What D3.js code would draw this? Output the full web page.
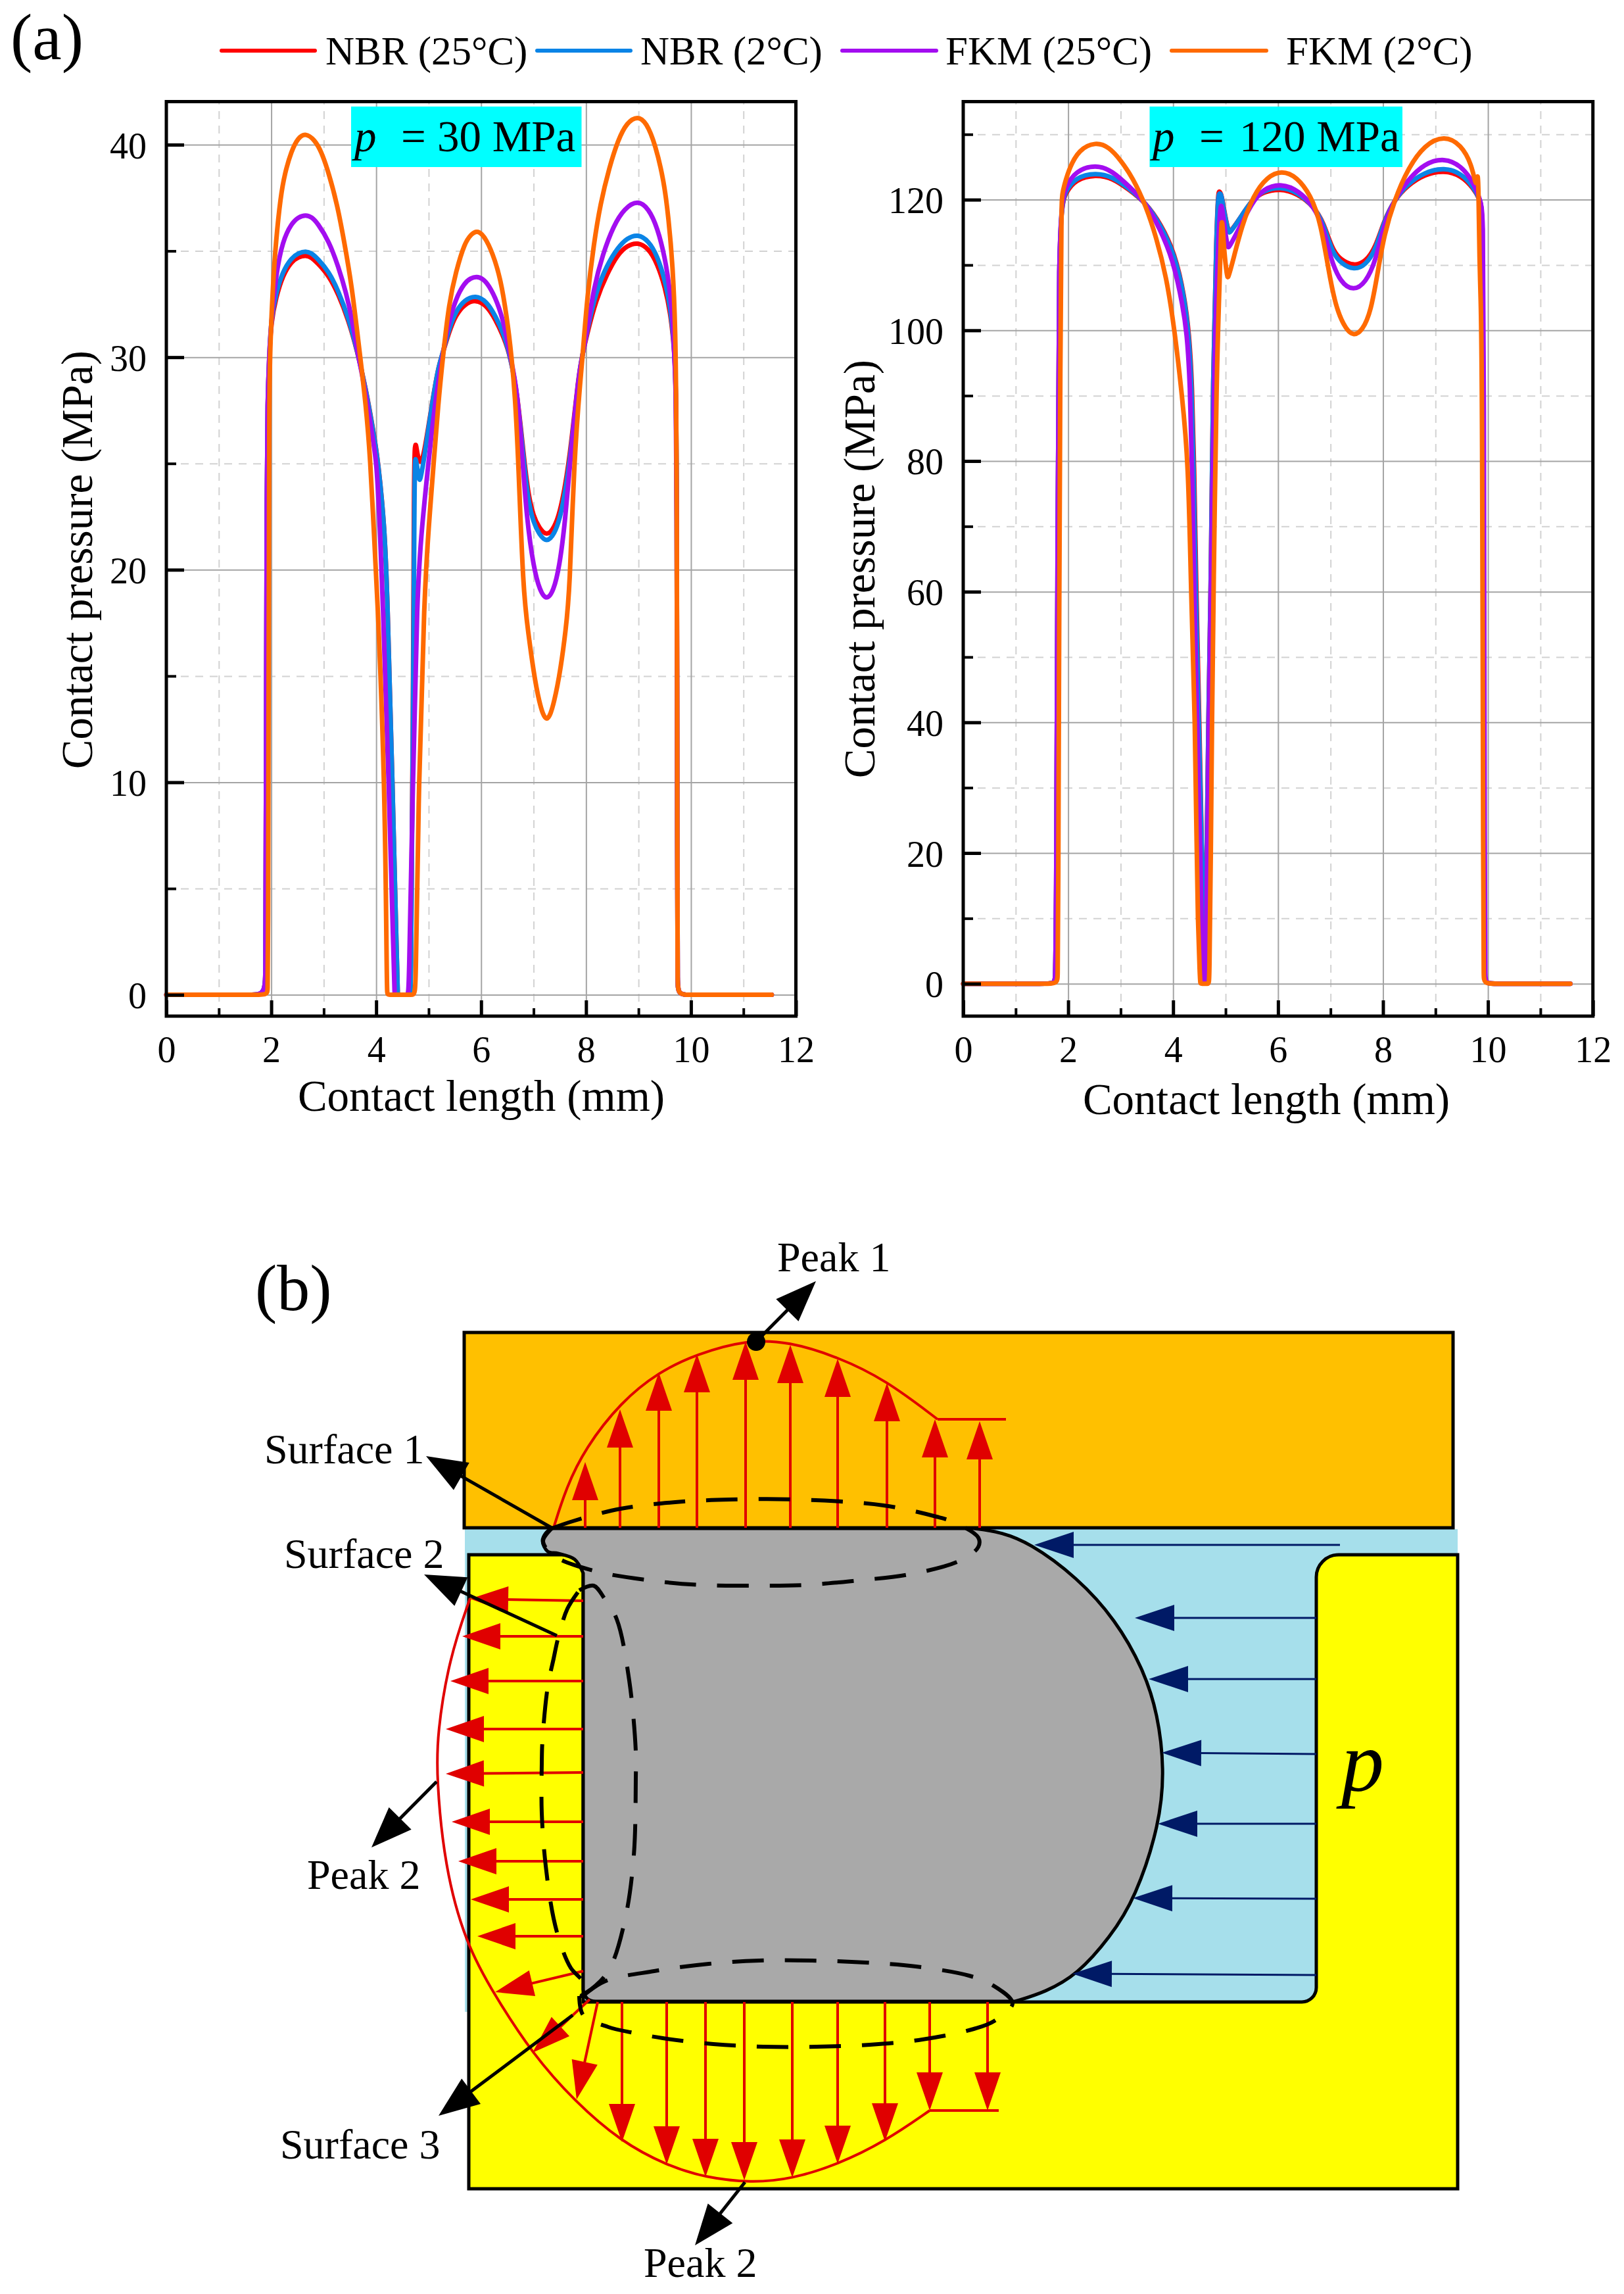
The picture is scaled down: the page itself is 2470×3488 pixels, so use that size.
<!DOCTYPE html>
<html><head><meta charset="utf-8">
<script src="https://cdn.jsdelivr.net/npm/d3@7/dist/d3.min.js"></script>
<style>html,body{margin:0;background:#fff}svg{display:block}text{font-family:"Liberation Serif",serif;fill:#000}</style>
</head><body><svg id="c" width="2470" height="3488"></svg>
<script>
// ---- chart data (contact length mm, contact pressure MPa)
const seriesNames=["NBR (25°C)","NBR (2°C)","FKM (25°C)","FKM (2°C)"];
const seriesColors=["#ff0000","#0a84e6","#a30df0","#ff6a00"];
const xMajor=[0,2,4,6,8,10,12], xMinor=[1,3,5,7,9,11];
const yMajorA=[0,10,20,30,40], yMinorA=[5,15,25,35];
const yMajorB=[0,20,40,60,80,100,120], yMinorB=[10,30,50,70,90,110,130];

const nbr25_30=[[0,0],[1.88,0],[1.89,0],[1.9,10],[1.915,25],[1.93,27.8],[1.96,30],[2,31.7],[2.09,32.8],[2.218,33.85],[2.385,34.5],[2.52,34.72],[2.657,34.8],[2.77,34.7],[2.886,34.42],[3.095,33.85],[3.283,32.95],[3.47,31.75],[3.638,30.3],[3.805,28.5],[3.93,26.75],[4.035,25.2],[4.16,22],[4.21,19],[4.31,10],[4.4,1],[4.41,0],[4.42,0],[4.65,0],[4.66,0],[4.7,12],[4.72,25],[4.74,25.9],[4.76,25.9],[4.78,25.5],[4.84,24.9],[4.91,25.4],[5.06,27.74],[5.18,29.5],[5.27,30.2],[5.39,31.2],[5.52,32],[5.685,32.5],[5.895,32.72],[6.1,32.45],[6.27,31.8],[6.44,30.9],[6.56,30],[6.69,28.3],[6.81,25.4],[6.9,23.5],[7,22.5],[7.1,22],[7.25,21.55],[7.4,22],[7.5,22.7],[7.6,23.9],[7.71,25.7],[7.86,29.25],[7.94,30.2],[8.02,31.1],[8.19,32.7],[8.4,33.93],[8.61,34.86],[8.78,35.25],[8.985,35.42],[9.194,35.12],[9.36,34.4],[9.507,33.3],[9.61,32.05],[9.674,30.6],[9.71,29],[9.73,25],[9.74,5],[9.745,0],[9.76,0],[11.53,0],[11.54,0]];
const nbr2_30=[[0,0],[1.88,0],[1.89,0],[1.9,10],[1.915,25],[1.93,27.8],[1.96,30],[2,31.87],[2.09,33],[2.218,34.04],[2.385,34.68],[2.52,34.9],[2.657,35],[2.77,34.9],[2.886,34.63],[3.095,34.04],[3.283,33.1],[3.47,31.87],[3.638,30.32],[3.805,28.46],[3.93,26.7],[4.035,25.16],[4.16,22],[4.21,19],[4.31,10],[4.4,1],[4.41,0],[4.42,0],[4.65,0],[4.66,0],[4.7,12],[4.73,25],[4.75,25.3],[4.77,25],[4.82,24.2],[4.84,24.2],[4.91,25.16],[5.06,27.74],[5.18,29.5],[5.27,30.2],[5.39,31.35],[5.52,32.18],[5.685,32.7],[5.895,32.92],[6.1,32.64],[6.27,31.97],[6.44,31.04],[6.56,30],[6.69,28.26],[6.81,25.16],[6.9,23.2],[7,22.2],[7.1,21.7],[7.25,21.25],[7.4,21.7],[7.5,22.4],[7.6,23.6],[7.71,25.47],[7.86,29.19],[7.94,30.2],[8.02,31.25],[8.19,33.1],[8.4,34.35],[8.61,35.17],[8.78,35.6],[8.985,35.8],[9.194,35.48],[9.36,34.76],[9.507,33.62],[9.61,32.28],[9.674,30.73],[9.71,29],[9.73,25],[9.74,5],[9.745,0],[9.76,0],[11.53,0],[11.54,0]];
const fkm25_30=[[0,0],[1.88,0],[1.89,0],[1.9,10],[1.915,25],[1.93,28],[1.96,30],[1.988,31.35],[2.09,33.93],[2.218,35.48],[2.385,36.3],[2.52,36.6],[2.657,36.7],[2.77,36.6],[2.886,36.3],[3.095,35.48],[3.283,34.24],[3.43,33],[3.534,31.87],[3.638,30.32],[3.805,28.26],[3.93,26.2],[4.007,25.16],[4.07,22],[4.12,19],[4.24,10],[4.34,1],[4.35,0],[4.36,0],[4.61,0],[4.62,0],[4.7,10],[4.78,19],[4.87,22],[5,25.16],[5.14,28.26],[5.27,30.1],[5.35,31.35],[5.52,32.8],[5.685,33.5],[5.8,33.72],[5.915,33.8],[6.03,33.7],[6.145,33.4],[6.31,32.6],[6.44,31.56],[6.56,30],[6.69,28.46],[6.79,25.16],[6.87,22.4],[7,20.1],[7.12,19],[7.25,18.55],[7.38,19],[7.49,20.1],[7.6,22.2],[7.71,25.47],[7.86,29.19],[7.94,30.2],[8.02,31.25],[8.15,33.3],[8.32,34.86],[8.525,36.2],[8.73,37],[8.985,37.4],[9.194,37],[9.36,36.1],[9.507,34.66],[9.59,33.3],[9.653,31.77],[9.686,30.03],[9.71,28.5],[9.73,25],[9.74,5],[9.745,0],[9.76,0],[11.53,0],[11.54,0]];
const fkm2_30=[[0,0],[1.92,0],[1.93,0],[1.94,2],[1.95,15],[1.96,28],[1.975,30.2],[2.03,33.4],[2.09,35.48],[2.176,37.54],[2.26,38.68],[2.385,39.71],[2.51,40.33],[2.657,40.55],[2.824,40.23],[2.95,39.71],[3.095,38.68],[3.262,37.13],[3.387,35.48],[3.534,33.4],[3.68,30.32],[3.805,27.74],[3.889,25.16],[3.95,22],[4.02,19],[4.165,10],[4.2,1],[4.21,0],[4.22,0],[4.74,0],[4.75,0],[4.81,10],[4.92,19],[5,22],[5.1,25.16],[5.18,27.74],[5.27,30],[5.39,32.59],[5.52,34.03],[5.685,35.38],[5.81,35.79],[5.935,36],[6.1,35.58],[6.27,34.55],[6.395,33.4],[6.52,31.35],[6.58,30],[6.645,28.26],[6.71,25.16],[6.8,19],[6.9,17],[7,15.2],[7.1,13.8],[7.25,12.6],[7.4,13.8],[7.52,15.4],[7.61,17.1],[7.69,19],[7.77,25.2],[7.9,29.19],[7.94,30.2],[8.02,32.8],[8.15,35.38],[8.275,37.24],[8.44,38.9],[8.61,40.23],[8.78,41.05],[8.985,41.36],[9.15,41.05],[9.32,40.02],[9.486,38.27],[9.57,36.6],[9.653,34.35],[9.704,31.25],[9.716,28.15],[9.73,25.47],[9.74,5],[9.745,0],[9.76,0],[11.53,0],[11.54,0]];

const nbr25_120=[[0,0],[1.74,0],[1.75,0],[1.77,8],[1.8,60],[1.81,118],[1.95,121.1],[2.14,123.1],[2.525,123.85],[2.845,123.3],[3.165,121.5],[3.484,119.5],[3.77,116.2],[4.03,111.9],[4.22,105.2],[4.31,99],[4.36,92],[4.4,80],[4.44,60],[4.5,40],[4.55,20],[4.59,1],[4.6,0],[4.61,0],[4.64,20],[4.67,40],[4.72,60],[4.76,94.2],[4.83,116],[4.86,121.1],[4.88,121.3],[4.92,121],[4.99,117.5],[5.06,115],[5.08,115],[5.24,116.7],[5.5,120],[5.72,121.2],[6.04,121.7],[6.36,121],[6.68,119],[6.87,116.5],[7.03,112.4],[7.19,110.8],[7.45,109.8],[7.67,110.5],[7.86,112.7],[8.02,116.8],[8.22,120],[8.47,122.2],[8.79,123.9],[9.17,124.5],[9.49,123.7],[9.72,121.8],[9.85,120],[9.9,118.3],[9.91,100],[9.93,10],[9.94,0],[9.95,0],[11.56,0],[11.57,0]];
const nbr2_120=[[0,0],[1.74,0],[1.75,0],[1.77,8],[1.8,60],[1.81,118],[1.95,121.4],[2.14,123.4],[2.525,124.15],[2.845,123.5],[3.165,121.7],[3.484,119.5],[3.77,116],[4.03,111.6],[4.22,104.9],[4.3,99],[4.35,92],[4.39,80],[4.43,60],[4.49,40],[4.55,20],[4.59,1],[4.6,0],[4.61,0],[4.64,20],[4.67,40],[4.72,60],[4.76,94.2],[4.83,115.6],[4.86,120.85],[4.89,121],[4.92,120.85],[4.99,117.3],[5.06,114.9],[5.08,114.9],[5.24,116.7],[5.5,120],[5.72,121.4],[6.04,122],[6.36,121.2],[6.68,119],[6.87,116.3],[7.03,112],[7.19,110.3],[7.45,109.2],[7.67,110],[7.86,112.3],[8.02,116.7],[8.22,120],[8.47,122.4],[8.79,124.2],[9.17,124.95],[9.49,124.04],[9.72,122],[9.85,120],[9.9,118.3],[9.91,100],[9.93,10],[9.94,0],[9.95,0],[11.56,0],[11.57,0]];
const fkm25_120=[[0,0],[1.74,0],[1.75,0],[1.77,8],[1.8,60],[1.81,118],[1.95,122],[2.14,124.4],[2.525,125.4],[2.845,124.4],[3.165,122],[3.484,119.5],[3.74,115.65],[3.996,110.95],[4.19,103.6],[4.27,98.9],[4.32,92],[4.36,80],[4.4,60],[4.46,40],[4.52,20],[4.56,1],[4.57,0],[4.62,0],[4.65,20],[4.68,40],[4.72,60],[4.78,94],[4.85,112],[4.89,118],[4.92,119.9],[4.97,116.3],[5.04,112.6],[5.06,112.6],[5.24,115.3],[5.5,119.5],[5.72,121.7],[6.07,122.5],[6.39,121.4],[6.68,119],[6.87,115.65],[7,110.95],[7.19,107.3],[7.44,106],[7.67,107.3],[7.86,110.6],[8.02,116.3],[8.22,120],[8.47,123],[8.79,125.55],[9.17,126.4],[9.49,125.2],[9.72,122.7],[9.85,120],[9.91,118.3],[9.92,100],[9.94,10],[9.95,0],[9.96,0],[11.56,0],[11.57,0]];
const fkm2_120=[[0,0],[1.79,0],[1.8,0],[1.81,10],[1.83,60],[1.85,95],[1.873,120],[1.886,121],[2.01,124.7],[2.205,127.7],[2.525,128.85],[2.78,128.07],[3,126.05],[3.23,123.37],[3.484,119],[3.676,114.3],[3.87,108.3],[4.03,100],[4.17,90],[4.29,80],[4.34,60],[4.42,40],[4.45,20],[4.47,10],[4.51,1],[4.52,0],[4.53,0],[4.68,0],[4.69,0],[4.72,20],[4.74,40],[4.77,60],[4.83,94.2],[4.88,105.6],[4.915,116],[4.93,116.8],[4.945,116],[4.97,112.3],[5.03,108],[5.05,108],[5.15,110.95],[5.31,116],[5.53,120.7],[5.79,123.5],[6.07,124.5],[6.36,123.5],[6.62,120.7],[6.81,116.7],[7,107.3],[7.13,102.9],[7.29,100.2],[7.44,99.1],[7.61,100],[7.77,102.9],[7.9,108.9],[8.02,114.6],[8.22,120],[8.47,124.7],[8.79,128.4],[9.17,129.85],[9.49,128.4],[9.69,125.4],[9.77,122],[9.79,123],[9.805,124],[9.82,122],[9.84,110],[9.86,105.6],[9.89,94.2],[9.91,10],[9.92,0],[9.93,0],[11.56,0],[11.57,0]];

const labelA=["30 MPa"], labelB=["120 MPa"];

// ---- schematic geometry (panel b), in picture pixels
const sealArc=[[1481,2324],[1520,2329],[1565,2345],[1638,2398],[1697,2463],[1739,2538],[1761,2606],[1771,2690],[1764,2773],[1727,2886],[1688,2946],[1639,3002],[1590,3029],[1544,3043]];
const sealLip=[[887,2392],[874,2371],[849,2362],[833,2359],[825,2343],[830,2331],[839,2324]];
const profileTop=[[842,2323],[861,2262],[890,2202],[944,2132],[1002,2086],[1059,2059],[1136,2037],[1200,2040],[1274,2063],[1347,2098],[1426,2158]];
const profileTopTail=[[1426,2158],[1530,2158]];
const profileLow=[[715,2430],[683,2522],[665,2636],[664,2703],[676,2837],[708,2955],[753,3035],[810,3123],[874,3195],[944,3256],[1015,3293],[1073,3311],[1142,3319],[1205,3313],[1274,3291],[1346,3256],[1414,3209]];
const profileLowTail=[[1414,3209],[1519,3209]];
const redArrows=[[890,2323,890,2223],[943,2323,943,2143],[1002,2323,1002,2087],[1060,2323,1060,2059],[1134,2323,1134,2040],[1202,2323,1202,2045],[1274,2323,1274,2066],[1349,2323,1349,2103],[1422,2323,1422,2158],[1490,2323,1490,2161],
[887,2434,715,2431],[887,2488,703,2488],[887,2556,685,2556],[887,2629,678,2629],[887,2695,678,2697],[887,2770,687,2770],[887,2830,697,2830],[887,2888,716,2888],[887,2944,726,2944],[887,2997,753,3029],[897,3040,810,3121],[909,3044,877,3192],
[946,3044,946,3257],[1014,3044,1014,3291],[1073,3044,1073,3310],[1132,3044,1132,3315],[1205,3044,1205,3311],[1274,3044,1274,3290],[1346,3044,1346,3256],[1414,3044,1414,3209],[1502,3044,1502,3209]];
const navyArrows=[[2038,2349,1573,2349],[2002,2460,1726,2460],[2002,2553,1747,2553],[2002,2667,1767,2665],[2002,2773,1761,2773],[2002,2887,1723,2886],[2002,3003,1631,3001]];
const dashTop=[[839,2324],[871,2313],[944,2294],[1027,2284],[1110,2280],[1214,2280],[1344,2289],[1424,2306],[1452,2315],[1488,2338],[1488,2352],[1460,2373],[1382,2394],[1305,2403],[1225,2410],[1149,2411],[1066,2410],[989,2403],[906,2389],[842,2365],[826,2343],[839,2324]];
const dashLeft=[[881,2418],[903,2411],[919,2430],[938,2462],[957,2555],[967,2663],[967,2703],[964,2821],[951,2917],[928,2992],[906,3019],[881,3035],[890,3019],[868,2992],[855,2963],[842,2917],[830,2837],[824,2757],[824,2682],[825,2647],[833,2565],[842,2522],[849,2490],[863,2446],[881,2418]];
const dashLow=[[884,3037],[919,3013],[995,2997],[1078,2986],[1155,2981],[1235,2981],[1316,2984],[1393,2990],[1474,3004],[1509,3018],[1540,3046],[1512,3073],[1481,3085],[1403,3101],[1323,3109],[1242,3112],[1161,3112],[1085,3108],[1008,3099],[964,3091],[925,3082],[887,3064],[881,3035]];
const blackArrows=[[1150,2040,1241,1948],[839,2323,648,2214],[847,2487,645,2394],[664,2709,565,2809],[871,3064,667,3217],[1133,3318,1057,3414]];
const schemaLabels=[["Peak 1",1182,1933],["Surface 1",402,2225],["Surface 2",432,2384],["Peak 2",467,2872],["Surface 3",426,3282],["Peak 2",979,3462]];

const svg=d3.select("#c");
const serif='"Liberation Serif",serif';

function txt(g,s,x,y,size,opts={}){
  const t=g.append("text").attr("x",x).attr("y",y).attr("font-size",size).text(s);
  if(opts.anchor)t.attr("text-anchor",opts.anchor);
  if(opts.italic)t.attr("font-style","italic");
  if(opts.rot)t.attr("transform",`rotate(-90 ${x} ${y})`);
  return t;
}

function panel(cfg){
  const x=d3.scaleLinear().domain([0,12]).range([cfg.l,cfg.r]);
  const y=d3.scaleLinear().domain(cfg.yd).range(cfg.yr);
  const g=svg.append("g");
  const gridY=(vals,cls)=>g.append("g").attr("transform",`translate(${cfg.l},0)`).call(d3.axisLeft(y).tickValues(vals).tickSize(-(cfg.r-cfg.l)).tickFormat("")).call(s=>s.select(".domain").remove()).selectAll("line").attr("stroke",cls?"#d2d2d2":"#a4a4a4").attr("stroke-width",2).attr("stroke-dasharray",cls?"12 10":null);
  const gridX=(vals,cls)=>g.append("g").attr("transform",`translate(0,${cfg.b})`).call(d3.axisBottom(x).tickValues(vals).tickSize(-(cfg.b-cfg.t)).tickFormat("")).call(s=>s.select(".domain").remove()).selectAll("line").attr("stroke",cls?"#d2d2d2":"#a4a4a4").attr("stroke-width",2).attr("stroke-dasharray",cls?"12 10":null);
  gridY(cfg.minor,true);gridX(xMinor,true);gridY(cfg.major,false);gridX(xMajor,false);
  g.append("rect").attr("x",cfg.box[0]).attr("y",162).attr("width",cfg.box[1]-cfg.box[0]).attr("height",92).attr("fill","#00ffff");
  txt(g,"p",cfg.p[0],230,67,{italic:true});
  txt(g,"=",cfg.p[1],230,67);
  txt(g,cfg.label[0],cfg.p[2],230,67);
  const line=d3.line().x(d=>x(d[0])).y(d=>y(d[1])).curve(d3.curveBasis);
  cfg.series.forEach((s,i)=>g.append("path").attr("d",line(s)).attr("fill","none").attr("stroke",seriesColors[i]).attr("stroke-width",7).attr("stroke-linejoin","round").attr("stroke-linecap","round"));
  g.append("rect").attr("x",cfg.l).attr("y",cfg.t).attr("width",cfg.r-cfg.l).attr("height",cfg.b-cfg.t).attr("fill","none").attr("stroke","#000").attr("stroke-width",5);
  const ax=g.append("g").attr("transform",`translate(0,${cfg.b})`).call(d3.axisBottom(x).tickValues(xMajor).tickSize(-24).tickFormat(d3.format("d")));
  ax.select(".domain").remove();ax.selectAll("line").attr("stroke","#000").attr("stroke-width",5);
  ax.selectAll("text").attr("y",70).attr("dy",0).attr("font-size",56).attr("font-family",serif);
  const axm=g.append("g").attr("transform",`translate(0,${cfg.b})`).call(d3.axisBottom(x).tickValues(xMinor).tickSize(-12).tickFormat(""));
  axm.select(".domain").remove();axm.selectAll("line").attr("stroke","#000").attr("stroke-width",4);
  const ay=g.append("g").attr("transform",`translate(${cfg.l},0)`).call(d3.axisLeft(y).tickValues(cfg.major).tickSize(-27).tickFormat(d3.format("d")));
  ay.select(".domain").remove();ay.selectAll("line").attr("stroke","#000").attr("stroke-width",5);
  ay.selectAll("text").attr("x",-30).attr("dy",20).attr("font-size",56).attr("font-family",serif);
  const aym=g.append("g").attr("transform",`translate(${cfg.l},0)`).call(d3.axisLeft(y).tickValues(cfg.minor).tickSize(-15).tickFormat(""));
  aym.select(".domain").remove();aym.selectAll("line").attr("stroke","#000").attr("stroke-width",4);
  txt(g,"Contact length (mm)",cfg.xl[0],cfg.xl[1],67,{anchor:"middle"});
  txt(g,"Contact pressure (MPa)",cfg.yl[0],cfg.yl[1],67,{anchor:"middle",rot:true});
}

panel({l:253,r:1210.5,t:154.5,b:1545,yd:[0,40],yr:[1512.6,220],major:yMajorA,minor:yMinorA,
  series:[nbr25_30,nbr2_30,fkm25_30,fkm2_30],box:[534,884.5],p:[539,610,665],label:labelA,xl:[732,1689],yl:[140,851]});
panel({l:1465,r:2422.7,t:154.5,b:1545,yd:[0,120],yr:[1495.7,303.6],major:yMajorB,minor:yMinorB,
  series:[nbr25_120,nbr2_120,fkm25_120,fkm2_120],box:[1748.5,2133],p:[1753,1824,1885],label:labelB,xl:[1926,1694],yl:[1329.5,865]});

const leg=svg.append("g");
const legLines=[[337,479],[817,959],[1281,1424],[1782,1926]], legText=[495,974,1438,1956];
seriesNames.forEach((n,i)=>{
  leg.append("line").attr("x1",legLines[i][0]).attr("x2",legLines[i][1]).attr("y1",77).attr("y2",77).attr("stroke",seriesColors[i]).attr("stroke-width",6).attr("stroke-linecap","round");
  txt(leg,n,legText[i],98,61);
});
txt(svg,"(a)",16,90,100);
txt(svg,"(b)",388,1992,100);

// ---- schematic
const ln=d3.line();
const smooth=d3.line().curve(d3.curveCatmullRom.alpha(.5));
const basis=d3.line().curve(d3.curveBasis);
const s=svg.append("g");
s.append("rect").attr("x",707).attr("y",2325).attr("width",1510).attr("height",734).attr("fill","#a6dfeb");
const well=d3.path();
well.moveTo(713,2364);well.lineTo(860,2364);well.arcTo(887,2364,887,2392,27);well.lineTo(887,3044);well.lineTo(1980,3044);
well.arcTo(2002,3044,2002,3022,22);well.lineTo(2002,2398);well.arcTo(2002,2364,2036,2364,34);well.lineTo(2217,2364);well.lineTo(2217,3328);well.lineTo(713,3328);well.closePath();
s.append("path").attr("d",well.toString()).attr("fill","#ffff00").attr("stroke","#000").attr("stroke-width",5);
s.append("rect").attr("x",706).attr("y",2026).attr("width",1504).attr("height",297).attr("fill","#ffc000").attr("stroke","#000").attr("stroke-width",5);
const seal="M839,2324"+basis(sealArc).replace(/^M/,"L")+"L906,3043Q889,3043 887,3025"+smooth(sealLip).replace(/^M/,"L")+"Z";
s.append("path").attr("d",seal).attr("fill","#a9a9a9").attr("stroke","#000").attr("stroke-width",5);

function arrow(g,a,color,w,hl,hw){
  const [x1,y1,x2,y2]=a, L=Math.hypot(x2-x1,y2-y1), ux=(x2-x1)/L, uy=(y2-y1)/L;
  g.append("line").attr("x1",x1).attr("y1",y1).attr("x2",x2-ux*hl*.9).attr("y2",y2-uy*hl*.9).attr("stroke",color).attr("stroke-width",w);
  const bx=x2-ux*hl, by=y2-uy*hl;
  g.append("path").attr("d",ln([[x2,y2],[bx-uy*hw/2,by+ux*hw/2],[bx+uy*hw/2,by-ux*hw/2]])+"Z").attr("fill",color);
}
const red="#e00000";
[profileTop,profileLow].forEach(p=>s.append("path").attr("d",basis(p)).attr("fill","none").attr("stroke",red).attr("stroke-width",4));
[profileTopTail,profileLowTail].forEach(p=>s.append("path").attr("d",ln(p)).attr("fill","none").attr("stroke",red).attr("stroke-width",4));
redArrows.forEach(a=>arrow(s,a,red,4,58,40));
navyArrows.forEach(a=>arrow(s,a,"#001a66",3,60,40));
[dashTop,dashLeft,dashLow].forEach(p=>s.append("path").attr("d",smooth(p)).attr("fill","none").attr("stroke","#000").attr("stroke-width",6).attr("stroke-dasharray","48 32"));
blackArrows.forEach(a=>arrow(s,a,"#000",5,62,48));
s.append("circle").attr("cx",1150).attr("cy",2040).attr("r",14).attr("fill","#000");
schemaLabels.forEach(d=>txt(s,d[0],d[1],d[2],64));
txt(s,"p",2040,2722,130,{italic:true});
</script></body></html>
